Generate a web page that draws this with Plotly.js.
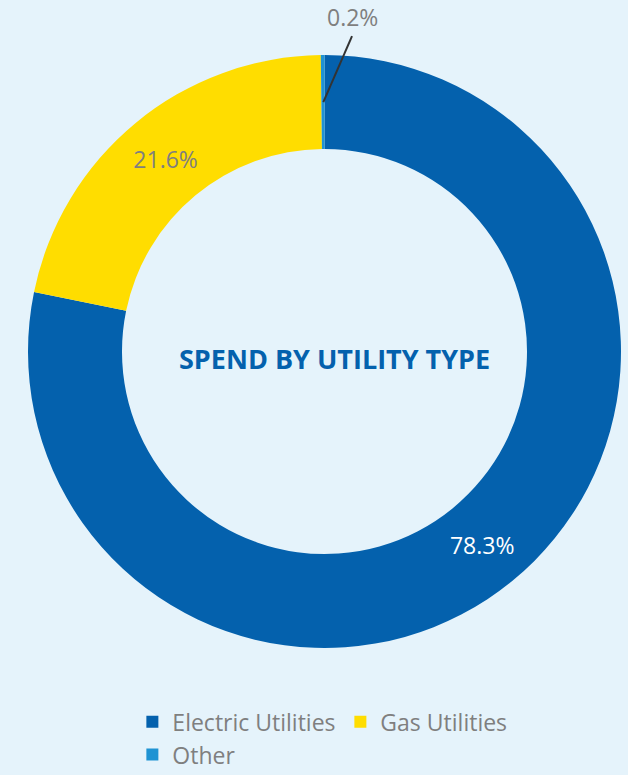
<!DOCTYPE html>
<html>
<head>
<meta charset="utf-8">
<script src="https://cdn.plot.ly/plotly-3.0.1.min.js"></script>
<style>html,body{margin:0;padding:0;background:#e5f3fb;}</style>
</head>
<body>
<div id="chart" style="width:628px;height:775px;"></div>
<script>
const categories = ["Electric Utilities", "Gas Utilities", "Other"];
const values = [78.3, 21.6, 0.2];
const sliceColors = ["#0461ad", "#ffdd00", "#1f93d3"];
const textColors = ["#ffffff", "#7f7f7f", "#7f7f7f"];
const smallLabel = "0.2%";

const trace = {
  type: "pie",
  labels: categories,
  values: values,
  hole: 0.683,
  sort: false,
  direction: "clockwise",
  rotation: 0,
  marker: {colors: sliceColors, line: {width: 0}},
  texttemplate: ["%{value:.1f}%", "%{value:.1f}%", ""],
  textinfo: "text",
  textposition: "inside",
  insidetextorientation: "horizontal",
  insidetextfont: {family: "Open Sans, sans-serif", size: 23, color: textColors},
  hoverinfo: "label+percent",
  showlegend: true
};

const layout = {
  width: 628, height: 775,
  paper_bgcolor: "#e5f3fb",
  plot_bgcolor: "#e5f3fb",
  margin: {l: 28, r: 7, t: 55, b: 127, autoexpand: false},
  font: {family: "Open Sans, sans-serif", color: "#7f7f7f"},
  showlegend: true,
  legend: {
    orientation: "h",
    x: 0.176, xanchor: "left",
    y: -0.088, yanchor: "top",
    font: {size: 23, color: "#7f7f7f"},
    entrywidth: 163, entrywidthmode: "pixels",
    bgcolor: "rgba(0,0,0,0)"
  },
  annotations: [
    {text: "<b>SPEND BY UTILITY TYPE</b>", xref: "paper", yref: "paper", x: 0.5, y: 0.5,
     xanchor: "center", yanchor: "middle", yshift: -7, xshift: 10,
     showarrow: false, font: {family: "Open Sans, sans-serif", size: 27, color: "#0461ad"}},
    {text: smallLabel, xref: "paper", yref: "paper", x: 0.5464, y: 1.064,
     xanchor: "center", yanchor: "middle", showarrow: false,
     font: {family: "Open Sans, sans-serif", size: 23, color: "#7f7f7f"}}
  ],
  shapes: [
    {type: "line", xref: "paper", yref: "paper", x0: 0.5464, y0: 1.032, x1: 0.498, y1: 0.9207,
     line: {color: "#333333", width: 2}}
  ]
};

Plotly.newPlot("chart", [trace], layout, {displayModeBar: false, staticPlot: true});
</script>
</body>
</html>
